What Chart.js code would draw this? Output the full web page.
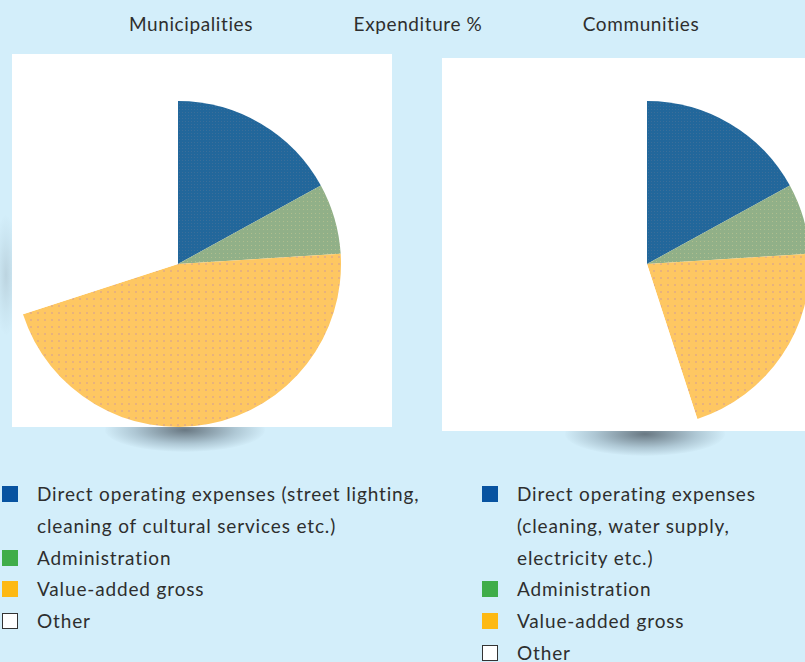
<!DOCTYPE html>
<html>
<head>
<meta charset="utf-8">
<script src="https://cdn.jsdelivr.net/npm/chart.js@4"></script>
<style>
  html, body { margin:0; padding:0; }
  body { width:805px; height:662px; overflow:hidden; background:#d3eefa; position:relative;
         font-family: Lato, "Open Sans", sans-serif; font-weight:400; color:#2e2e2e; }
  .title { position:absolute; top:12px; font-size:19px; white-space:nowrap; transform:translateX(-50%); letter-spacing:0.6px; }
  .panel { position:absolute; background:#fff; z-index:2; }
  .shadow { position:absolute; z-index:1; border-radius:50%;
            background: radial-gradient(ellipse at center, rgba(60,70,80,0.7) 0%, rgba(90,110,125,0.3) 45%, rgba(211,238,250,0) 72%); }
  canvas { position:absolute; z-index:3; }
  .legend { position:absolute; z-index:3; font-size:19px; line-height:31.8px; letter-spacing:0.85px; }
  .item { position:relative; padding-left:35px; white-space:pre-line; }
  .sw { position:absolute; left:0; top:8px; width:16px; height:16px; box-sizing:border-box; }
</style>
</head>
<body>
<div class="title" style="left:191px">Municipalities</div>
<div class="title" style="left:418px">Expenditure %</div>
<div class="title" style="left:641px">Communities</div>

<div class="shadow" style="left:105px; top:408px; width:160px; height:44px;"></div>
<div class="shadow" style="left:565px; top:412px; width:160px; height:44px;"></div>
<div class="shadow" style="left:-6px; top:215px; width:24px; height:120px; opacity:0.22;"></div>

<div class="panel" style="left:12px; top:54px; width:380px; height:373px;"></div>
<div class="panel" style="left:442px; top:58px; width:380px; height:373px;"></div>

<canvas id="c1" width="330" height="330" style="left:13px; top:99px; width:330px; height:330px;"></canvas>
<canvas id="c2" width="330" height="330" style="left:482px; top:99px; width:330px; height:330px;"></canvas>

<div class="legend" id="leg1" style="left:2px; top:478px; width:440px;"></div>
<div class="legend" id="leg2" style="left:482px; top:478px; width:320px;"></div>

<script>
// ---- data ----
const categories = ["Direct operating expenses", "Administration", "Value-added gross", "Other"];
const municipalitiesLabels = ["Direct operating expenses (street lighting,\ncleaning of cultural services etc.)", "Administration", "Value-added gross", "Other"];
const communitiesLabels = ["Direct operating expenses\n(cleaning, water supply,\nelectricity etc.)", "Administration", "Value-added gross", "Other"];
const municipalitiesValues = [17, 7, 46, 30];
const communitiesValues = [17, 7, 21, 55];
const legendColors = ["#0853a0", "#40ad49", "#fdb913", "#ffffff"];

function makePattern(base, dot, size, dotSize) {
  const c = document.createElement('canvas');
  c.width = size; c.height = size;
  const g = c.getContext('2d');
  g.fillStyle = base; g.fillRect(0, 0, size, size);
  g.fillStyle = dot; g.fillRect(Math.floor(size/2), Math.floor(size/2), dotSize, dotSize);
  return g.createPattern(c, 'repeat');
}
function fills() {
  return [
    makePattern("#22679b", "#3a6e9a", 3, 1),
    makePattern("#91b088", "#b0be8e", 4, 1),
    makePattern("#fec762", "#e8b27c", 7, 2),
    "#ffffff"
  ];
}

function makePie(id, values) {
  new Chart(document.getElementById(id), {
    type: 'pie',
    data: {
      labels: categories,
      datasets: [{ data: values, backgroundColor: fills(), borderWidth: 0, hoverOffset: 0 }]
    },
    options: {
      responsive: false,
      animation: false,
      layout: { padding: 2 },
      plugins: { legend: { display: false }, tooltip: { enabled: false }, title: { display: false } },
      events: []
    }
  });
}
makePie('c1', municipalitiesValues);
makePie('c2', communitiesValues);

function makeLegend(id, labels) {
  const el = document.getElementById(id);
  labels.forEach((txt, i) => {
    const item = document.createElement('div');
    item.className = 'item';
    const sw = document.createElement('span');
    sw.className = 'sw';
    sw.style.background = legendColors[i];
    if (i === 3) sw.style.border = '1.5px solid #333';
    item.appendChild(sw);
    item.appendChild(document.createTextNode(txt));
    el.appendChild(item);
  });
}
makeLegend('leg1', municipalitiesLabels);
makeLegend('leg2', communitiesLabels);
</script>
</body>
</html>
